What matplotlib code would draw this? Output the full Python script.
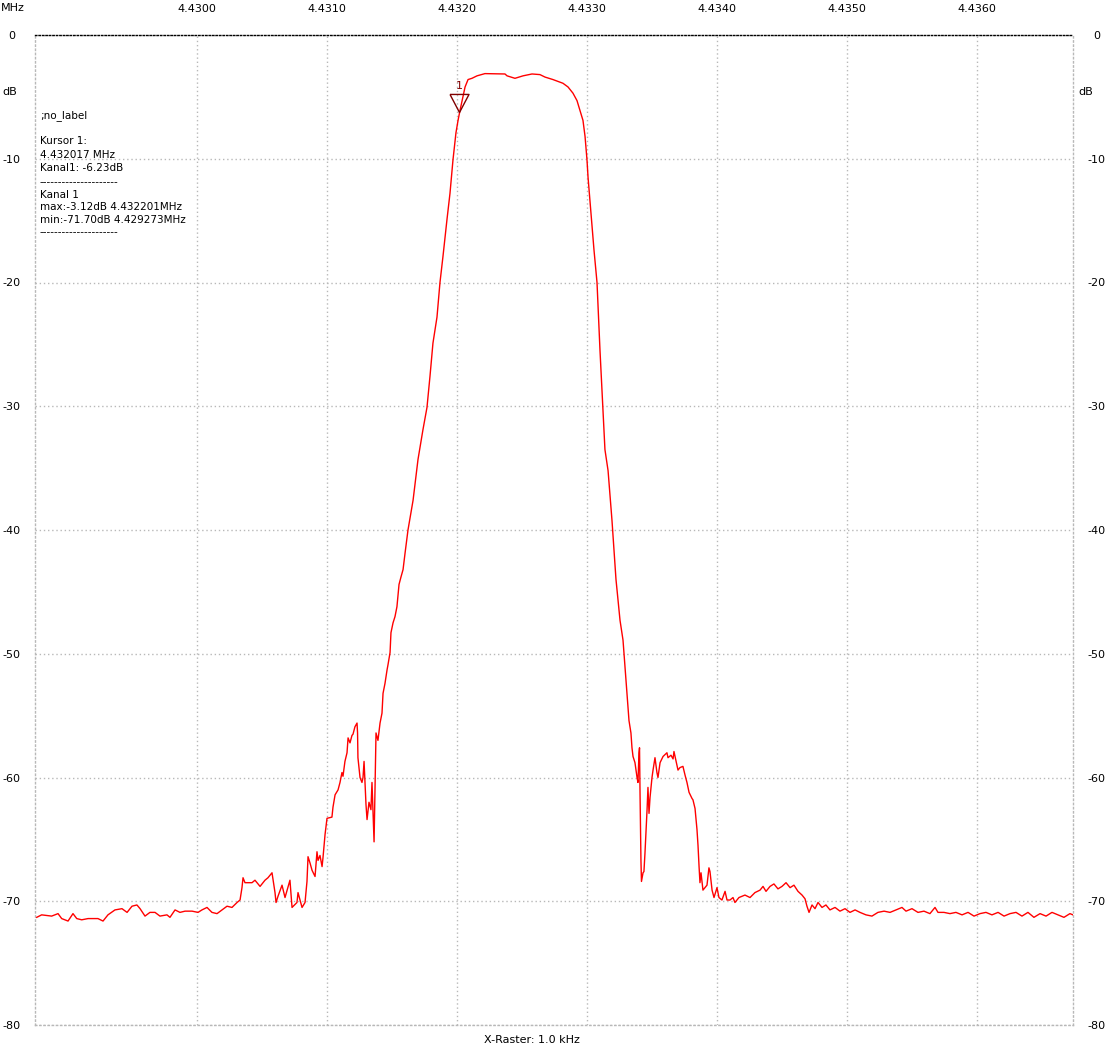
import numpy as np
import matplotlib.pyplot as plt

# Messdaten: Frequenz-Offset in Hz relativ zu 4.4300 MHz, Pegel in dB
offset_hz = [
    -1233, -1195, -1118, -1069, -1041, -992, -954, -925, -887, -838,
    -762, -723, -685, -631, -577, -538, -500, -462, -438, -400,
    -362, -323, -285, -231, -208, -169, -131, -92, -38, 8,
    38, 77, 115, 154, 192, 231, 269, 308, 331, 346,
    354, 369, 423, 446, 485, 523, 546, 577, 600, 608,
    623, 654, 677, 715, 731, 769, 777, 808, 831, 846,
    854, 869, 885, 908, 923, 931, 946, 962, 969, 985,
    1000, 1038, 1046, 1062, 1085, 1100, 1115, 1123, 1138, 1154,
    1162, 1177, 1192, 1200, 1215, 1231, 1235, 1238, 1254, 1269,
    1277, 1285, 1300, 1308, 1323, 1338, 1346, 1362, 1369, 1377,
    1392, 1408, 1423, 1431, 1446, 1462, 1469, 1485, 1492, 1508,
    1523, 1538, 1546, 1554, 1569, 1585, 1600, 1623, 1662, 1700,
    1738, 1769, 1792, 1815, 1846, 1869, 1892, 1923, 1946, 1969,
    1992, 2008, 2023, 2046, 2062, 2085, 2115, 2154, 2215, 2369,
    2385, 2446, 2508, 2577, 2638, 2677, 2738, 2815, 2854, 2892,
    2923, 2946, 2969, 2985, 3000, 3008, 3054, 3077, 3100, 3123,
    3138, 3162, 3192, 3223, 3254, 3277, 3300, 3323, 3338, 3346,
    3354, 3369, 3385, 3392, 3400, 3404, 3408, 3415, 3419, 3431,
    3438, 3446, 3462, 3469, 3477, 3485, 3500, 3508, 3523, 3538,
    3546, 3562, 3585, 3615, 3623, 3646, 3662, 3669, 3692, 3700,
    3715, 3738, 3754, 3769, 3785, 3808, 3815, 3831, 3846, 3854,
    3862, 3869, 3877, 3892, 3915, 3923, 3938, 3946, 3962, 3977,
    4000, 4015, 4038, 4062, 4077, 4100, 4123, 4138, 4154, 4169,
    4215, 4254, 4292, 4331, 4354, 4377, 4408, 4438, 4469, 4500,
    4531, 4562, 4592, 4623, 4654, 4677, 4692, 4708, 4731, 4754,
    4777, 4808, 4838, 4869, 4908, 4946, 4985, 5023, 5062, 5100,
    5146, 5192, 5238, 5285, 5331, 5377, 5423, 5454, 5500, 5546,
    5592, 5638, 5677, 5700, 5746, 5792, 5838, 5885, 5931, 5977,
    6023, 6069, 6115, 6162, 6208, 6254, 6300, 6346, 6392, 6438,
    6485, 6531, 6577, 6623, 6669, 6715, 6738,
]
pegel_db = [
    -71.3, -71.1, -71.2, -71.0, -71.4, -71.6, -71.0, -71.4, -71.5, -71.4,
    -71.4, -71.6, -71.1, -70.7, -70.6, -70.9, -70.4, -70.3, -70.6, -71.2,
    -70.9, -70.9, -71.2, -71.1, -71.3, -70.7, -70.9, -70.8, -70.8, -70.9,
    -70.7, -70.5, -70.9, -71.0, -70.7, -70.4, -70.5, -70.1, -69.9, -68.9,
    -68.1, -68.5, -68.5, -68.3, -68.8, -68.3, -68.1, -67.7, -69.3, -70.1,
    -69.6, -68.7, -69.7, -68.3, -70.5, -70.1, -69.3, -70.5, -70.1, -68.4,
    -66.4, -66.9, -67.5, -68.0, -66.0, -66.7, -66.3, -67.2, -66.5, -64.6,
    -63.3, -63.2, -62.4, -61.4, -61.0, -60.4, -59.6, -59.9, -58.7, -58.0,
    -56.8, -57.2, -56.6, -56.5, -55.9, -55.6, -56.4, -58.4, -60.0, -60.4,
    -60.0, -58.7, -62.2, -63.4, -62.0, -62.6, -60.4, -65.2, -61.0, -56.4,
    -57.0, -55.6, -54.8, -53.2, -52.4, -51.3, -50.9, -49.9, -48.3, -47.5,
    -47.0, -46.2, -45.3, -44.4, -43.8, -43.2, -41.9, -40.0, -37.6, -34.3,
    -31.9, -30.1, -27.6, -24.9, -22.8, -20.0, -17.9, -14.9, -12.8, -10.1,
    -7.9, -6.9, -6.1, -5.0, -4.2, -3.6, -3.5, -3.3, -3.12, -3.15,
    -3.3, -3.5, -3.3, -3.15, -3.2, -3.4, -3.6, -3.9, -4.2, -4.7,
    -5.3, -6.1, -6.9, -8.2, -10.1, -11.5, -17.4, -20.0, -25.5, -30.3,
    -33.5, -35.2, -39.2, -44.0, -47.3, -48.9, -52.1, -55.4, -56.4, -57.6,
    -58.3, -58.8, -60.0, -60.4, -58.0, -57.6, -61.3, -66.7, -68.4, -67.7,
    -67.6, -66.1, -62.6, -60.8, -62.9, -61.6, -60.0, -59.4, -58.4, -59.6,
    -60.0, -58.8, -58.3, -58.0, -58.4, -58.2, -58.5, -57.9, -59.0, -59.4,
    -59.2, -59.1, -59.8, -60.4, -61.2, -61.7, -61.8, -62.5, -64.2, -65.5,
    -67.2, -68.5, -67.7, -69.1, -68.8, -68.7, -67.3, -67.6, -69.1, -69.7,
    -68.9, -69.7, -69.9, -69.2, -69.9, -69.9, -69.7, -70.1, -69.9, -69.7,
    -69.5, -69.7, -69.3, -69.1, -68.8, -69.2, -68.8, -68.6, -69.0, -68.8,
    -68.5, -68.9, -68.7, -69.2, -69.5, -69.8, -70.4, -70.9, -70.3, -70.6,
    -70.1, -70.5, -70.3, -70.7, -70.5, -70.8, -70.6, -70.9, -70.7, -70.9,
    -71.1, -71.2, -70.9, -70.8, -70.9, -70.7, -70.5, -70.8, -70.6, -70.9,
    -70.8, -71.0, -70.5, -70.9, -70.9, -71.0, -70.9, -71.1, -70.9, -71.2,
    -71.0, -70.9, -71.1, -70.9, -71.2, -71.0, -70.9, -71.2, -70.9, -71.3,
    -71.0, -71.2, -70.9, -71.1, -71.3, -71.0, -71.1,
]

x_ticks = [4.4300, 4.4310, 4.4320, 4.4330, 4.4340, 4.4350, 4.4360]
y_ticks = [0, -10, -20, -30, -40, -50, -60, -70, -80]
x_range = [4.4287538, 4.4367385]

kursor_freq = 4.432017
kursor_db = -6.23

info_lines = [
    ";no_label",
    "",
    "Kursor 1:",
    "4.432017 MHz",
    "Kanal1: -6.23dB",
    "---------------------",
    "Kanal 1",
    "max:-3.12dB 4.432201MHz",
    "min:-71.70dB 4.429273MHz",
    "---------------------",
]

freq = 4.43 + np.array(offset_hz) / 1e6

W, H = 1108, 1060
fig = plt.figure(figsize=(W / 100, H / 100), dpi=100)
ax = fig.add_axes([35 / W, (H - 1025) / H, (1073 - 35) / W, (1025 - 35) / H])

ax.plot(freq, pegel_db, color='#ff0000', lw=1.0, zorder=3)

# Kursor-Marker: Dreieck mit Spitze auf der Kurve
tri = [(-1, 1.9), (1, 1.9), (0, 0), (-1, 1.9)]
ax.plot([kursor_freq], [kursor_db], marker=tri, markersize=26,
        markerfacecolor='none', markeredgecolor='#800000', mew=1.0,
        zorder=4, clip_on=False)
ax.annotate("1", (kursor_freq, kursor_db), xytext=(0, 15),
            textcoords='offset points', ha='center', va='bottom',
            color='#800000', fontsize=8)

ax.set_xlim(*x_range)
ax.set_ylim(-80, 0)
ax.set_xticks(x_ticks)
ax.set_xticklabels([f"{t:.4f}" for t in x_ticks])
ax.set_yticks(y_ticks)
ax.set_yticklabels([str(t) for t in y_ticks])

ax.grid(True, color='#b8b8b8', linestyle=(0, (1, 2)), lw=1.0)
for side in ['left', 'right', 'bottom']:
    ax.spines[side].set_color('#b8b8b8')
    ax.spines[side].set_linestyle((0, (1, 2)))
    ax.spines[side].set_linewidth(1.0)
ax.spines['top'].set_color('black')
ax.spines['top'].set_linewidth(1.0)
ax.spines['top'].set_linestyle((0, (1, 1.5)))

ax.tick_params(axis='x', labeltop=True, labelbottom=False, length=0,
               pad=19, labelsize=8)
ax.tick_params(axis='y', labelleft=True, labelright=True, length=0,
               labelsize=8, pad=17)
for lbl in ax.get_xticklabels():
    lbl.set_verticalalignment('center')
for t in ax.yaxis.get_major_ticks():
    t.label1.set_horizontalalignment('center')
    t.label2.set_horizontalalignment('center')

fig.text(1 / W, 1 - 8 / H, "MHz", fontsize=8, va='center', ha='left')
fig.text(2 / W, 1 - 92 / H, "dB", fontsize=8, va='center', ha='left')
fig.text(1078 / W, 1 - 92 / H, "dB", fontsize=8, va='center', ha='left')
fig.text(532 / W, 1 - 1040 / H, "X-Raster: 1.0 kHz", fontsize=8,
         va='center', ha='center')

y_pos = [116, 128, 141, 155, 168, 182, 195, 207, 220, 232]
for txt, yp in zip(info_lines, y_pos):
    if txt:
        fig.text(40 / W, 1 - yp / H, txt, fontsize=7.5, va='center', ha='left')

fig.savefig("out.png", dpi=100)
